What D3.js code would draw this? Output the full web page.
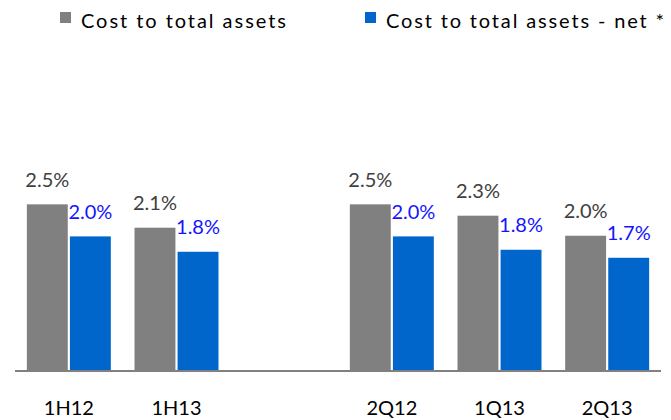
<!DOCTYPE html>
<html><head><meta charset="utf-8">
<script src="https://cdn.jsdelivr.net/npm/d3@7"></script>
<style>body{margin:0;background:#fff}svg{display:block}</style>
</head><body>
<svg id="chart" width="671" height="420"></svg>
<script>
// ---- data ----
const slots = ["1H12", "1H13", "gap", "2Q12", "1Q13", "2Q13"];
const categories = ["1H12", "1H13", "2Q12", "1Q13", "2Q13"];
const seriesNames = ["Cost to total assets", "Cost to total assets - net *"];
const costValues = [2.48, 2.13, 2.48, 2.31, 2.01];
const netValues = [2.0, 1.77, 2.0, 1.80, 1.68];
const colors = ["#808080", "#0066CC"];
const labelColors = ["#404040", "#1414FF"];

// ---- layout ----
const baseY = 370;
const svg = d3.select("#chart");
const font = "Lato, 'Open Sans', sans-serif";

const x0 = d3.scaleBand().domain(slots).range([15, 661]).paddingInner(0.22).paddingOuter(0.11);
const x1 = d3.scaleBand().domain([0, 1]).range([0, x0.bandwidth()]).paddingInner(0.05);
const y = d3.scaleLinear().domain([0, 2.5]).range([baseY, 203]);

const series = [costValues, netValues];
const fmt = v => d3.format(".1f")(v) + "%";

series.forEach((vals, s) => {
  const g = svg.append("g");
  g.selectAll("rect").data(vals).join("rect")
    .attr("x", (d, i) => x0(categories[i]) + x1(s))
    .attr("y", d => y(d))
    .attr("width", x1.bandwidth())
    .attr("height", d => baseY - y(d))
    .attr("fill", colors[s]);
  g.selectAll("text").data(vals).join("text")
    .attr("x", (d, i) => x0(categories[i]) + x1(s) + x1.bandwidth() / 2)
    .attr("y", d => y(d) - 17.5)
    .attr("text-anchor", "middle")
    .attr("font-family", font)
    .attr("font-size", 20)
    .attr("fill", labelColors[s])
    .text(d => fmt(d));
});

// axis baseline
svg.append("line").attr("x1", 15).attr("x2", 661).attr("y1", baseY + 1).attr("y2", baseY + 1)
  .attr("stroke", "#808080").attr("stroke-width", 2);

// category labels
svg.append("g").selectAll("text").data(categories).join("text")
  .attr("x", d => x0(d) + x0.bandwidth() / 2)
  .attr("y", 415)
  .attr("text-anchor", "middle")
  .attr("font-family", font)
  .attr("font-size", 20)
  .attr("fill", "#000")
  .text(d => d);

// legend
const legX = [60, 365];
const legW = [205, 278];
seriesNames.forEach((n, s) => {
  svg.append("rect").attr("x", legX[s]).attr("y", 12).attr("width", 11).attr("height", 11).attr("fill", colors[s]);
  svg.append("text").attr("x", legX[s] + 21).attr("y", 27.5)
    .attr("font-family", font).attr("font-size", 20).attr("fill", "#000")
    .attr("textLength", legW[s]).attr("lengthAdjust", "spacing")
    .text(n);
});
</script>
</body></html>
